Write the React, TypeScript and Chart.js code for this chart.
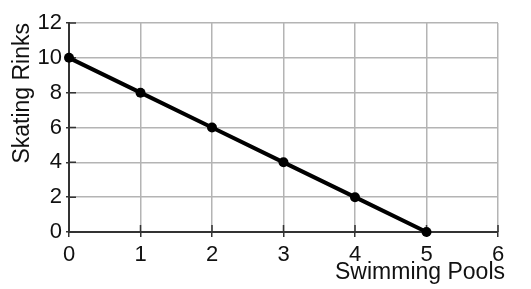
import React, { useEffect, useRef } from "react";
import { Chart, registerables } from "chart.js";

Chart.register(...registerables);

const swimmingPools = [0, 1, 2, 3, 4, 5];
const skatingRinks = [10, 8, 6, 4, 2, 0];
const xTicks = [0, 1, 2, 3, 4, 5, 6];
const yTicks = [0, 2, 4, 6, 8, 10, 12];
const xTitle = "Swimming Pools";
const yTitle = "Skating Rinks";

const FONT = "'Liberation Sans', Arial, Helvetica, sans-serif";

const innerTicks = {
  id: "innerTicks",
  beforeDatasetsDraw(chart: any) {
    const { ctx, chartArea, scales } = chart;
    ctx.save();
    ctx.strokeStyle = "#333";
    ctx.lineWidth = 1.5;
    ctx.beginPath();
    for (const v of yTicks) {
      const y = scales.y.getPixelForValue(v);
      ctx.moveTo(chartArea.left, y);
      ctx.lineTo(chartArea.left + 7, y);
    }
    for (const v of xTicks) {
      const x = scales.x.getPixelForValue(v);
      ctx.moveTo(x, chartArea.bottom);
      ctx.lineTo(x, chartArea.bottom - 7);
    }
    ctx.stroke();
    ctx.restore();
  },
  afterDraw(chart: any) {
    const { ctx, chartArea } = chart;
    ctx.save();
    ctx.fillStyle = "#111";
    ctx.font = `23px ${FONT}`;
    ctx.textAlign = "right";
    ctx.textBaseline = "alphabetic";
    ctx.fillText(xTitle, chartArea.right + 7, chartArea.bottom + 47);
    ctx.restore();
  },
};

export default function App() {
  const ref = useRef<HTMLCanvasElement>(null);
  useEffect(() => {
    const canvas = ref.current!;
    const chart = new Chart(canvas, {
      type: "line",
      data: {
        datasets: [
          {
            data: swimmingPools.map((x, i) => ({ x, y: skatingRinks[i] })),
            borderColor: "#000",
            backgroundColor: "#000",
            borderWidth: 4,
            pointRadius: 5,
            pointBorderWidth: 0,
            pointBackgroundColor: "#000",
            pointBorderColor: "#000",
            clip: false as any,
            tension: 0,
          },
        ],
      },
      plugins: [innerTicks],
      options: {
        animation: false,
        responsive: false,
        maintainAspectRatio: false,
        layout: { padding: { top: 23, right: 33, left: 0, bottom: 0 } },
        plugins: { legend: { display: false }, tooltip: { enabled: false } },
        scales: {
          x: {
            type: "linear",
            min: 0,
            max: 6,
            afterBuildTicks: (s: any) => {
              s.ticks = xTicks.map((v) => ({ value: v }));
            },
            afterFit: (s: any) => {
              s.height = 57;
            },
            ticks: {
              color: "#111",
              font: { family: FONT, size: 22 },
              padding: 5,
              maxRotation: 0,
            },
            grid: {
              color: "#b4b4b4",
              lineWidth: 1.5,
              tickLength: 5,
              tickColor: "#333",
              tickWidth: 1.5,
            },
            border: { color: "#333", width: 2 },
            title: { display: false },
          },
          y: {
            type: "linear",
            min: 0,
            max: 12,
            afterBuildTicks: (s: any) => {
              s.ticks = yTicks.map((v) => ({ value: v }));
            },
            afterFit: (s: any) => {
              s.width = 69;
            },
            ticks: {
              color: "#111",
              font: { family: FONT, size: 22 },
              padding: 4,
            },
            grid: {
              color: "#b4b4b4",
              lineWidth: 1.5,
              tickLength: 3,
              tickColor: "#333",
              tickWidth: 1.5,
            },
            border: { color: "#333", width: 2 },
            title: {
              display: true,
              text: yTitle,
              align: "end",
              color: "#111",
              font: { family: FONT, size: 23 },
              padding: { top: 9, bottom: 0 },
            },
          },
        },
      },
    });
    return () => chart.destroy();
  }, []);
  return (
    <div style={{ position: "fixed", left: 0, top: 0, width: 531, height: 289, background: "#fff" }}>
      <canvas ref={ref} width={531} height={289} style={{ width: 531, height: 289, display: "block" }} />
    </div>
  );
}
